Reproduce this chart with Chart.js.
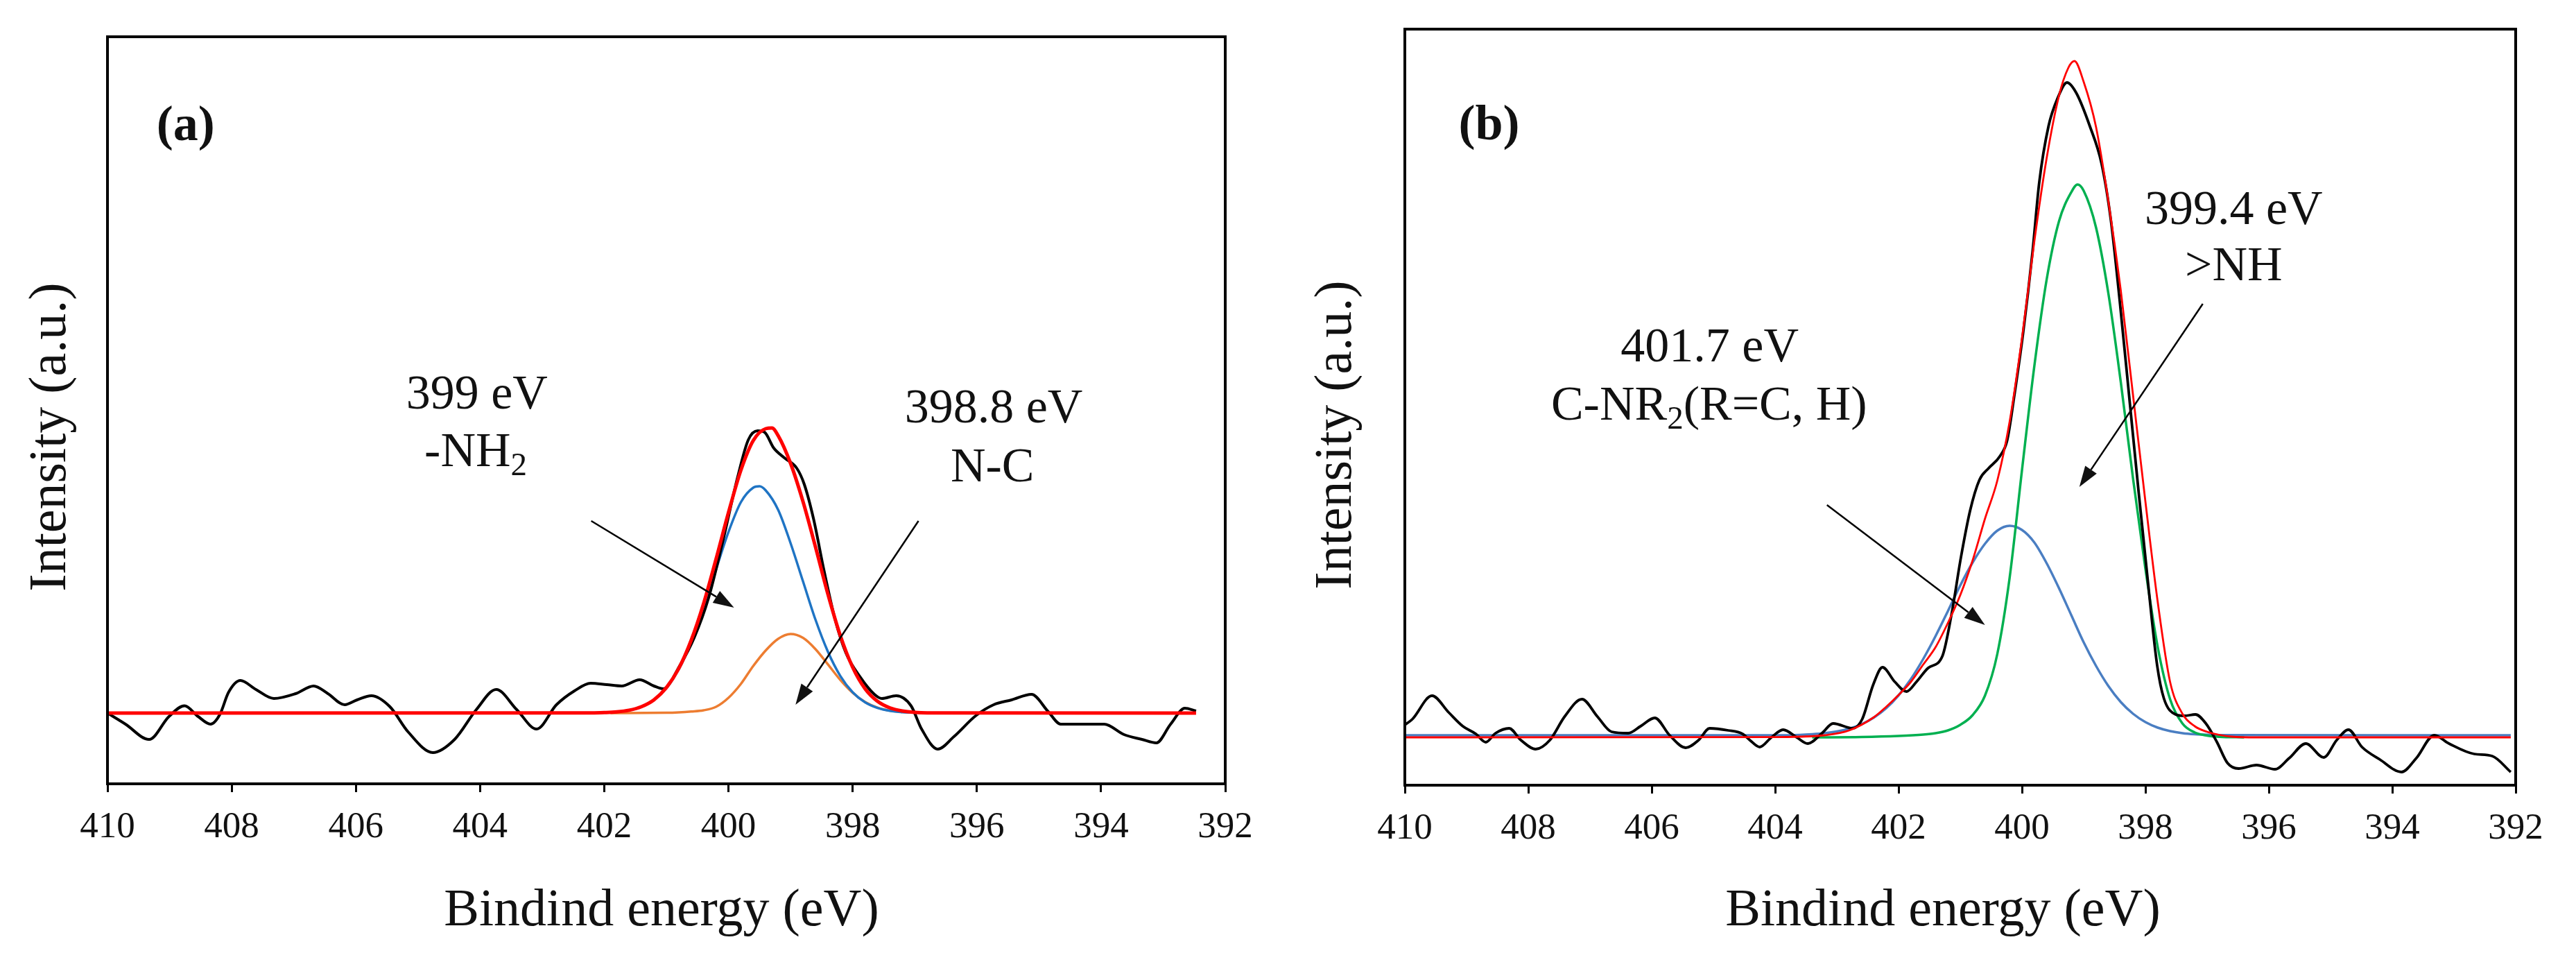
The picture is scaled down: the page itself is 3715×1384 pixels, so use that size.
<!DOCTYPE html>
<html>
<head>
<meta charset="utf-8">
<title>N 1s XPS</title>
<script src="https://cdn.jsdelivr.net/npm/chart.js@4.4.1/dist/chart.umd.min.js"></script>
<style>
  html, body { margin: 0; padding: 0; background: #fff; }
  body { width: 3715px; height: 1384px; position: relative; overflow: hidden; }
  canvas { position: absolute; top: 0; }
  #chartA { left: 0; }
  #chartB { left: 1860px; }
</style>
</head>
<body>
<canvas id="chartA" width="1860" height="1384"></canvas>
<canvas id="chartB" width="1855" height="1384"></canvas>
<script>
// x axis ticks, binding energy (eV)
const energyTicks = [410, 408, 406, 404, 402, 400, 398, 396, 394, 392];

// Panel (a) - measured spectrum
const aRawE = [410.00, 409.71, 409.33, 409.01, 408.76, 408.54, 408.34, 408.19, 408.05, 407.86, 407.61, 407.32, 406.97, 406.68, 406.45, 406.18, 405.98, 405.75, 405.45, 405.16, 404.76, 404.41, 404.06, 403.74, 403.41, 403.09, 402.77, 402.48, 402.22, 401.96, 401.72, 401.43, 401.20, 401.05, 400.78, 400.55, 400.32, 400.09, 399.85, 399.68, 399.53, 399.42, 399.27, 399.10, 398.90, 398.78, 398.63, 398.46, 398.28, 398.11, 397.88, 397.65, 397.53, 397.30, 397.06, 396.89, 396.63, 396.37, 396.02, 395.73, 395.44, 395.12, 394.85, 394.65, 394.33, 393.95, 393.63, 393.34, 393.11, 392.88, 392.65, 392.47];
const aRawI = [0, -1.6, -3.8, -0.5, 1.05, -0.5, -1.6, -0.2, 3.0, 4.7, 3.4, 2.1, 2.8, 3.9, 2.8, 1.2, 1.9, 2.5, 0.9, -2.7, -5.7, -3.8, 0.5, 3.4, 0.5, -2.3, 1.2, 3.2, 4.3, 4.1, 3.9, 4.8, 3.9, 3.5, 6.9, 10.9, 16.6, 24.8, 34.1, 39.4, 40.7, 40.5, 38.2, 36.8, 35.3, 33.0, 28.0, 20.5, 13.4, 8.7, 5.2, 2.7, 2.1, 2.5, 1.05, -2.3, -5.2, -3.4, -0.4, 1.2, 1.9, 2.7, 0.2, -1.6, -1.6, -1.6, -3.1, -3.8, -4.3, -1.6, 0.7, 0.3];

// Panel (a) - fitted envelope
const aFitE = [410.0, 402.2, 402.0, 401.8, 401.6, 401.4, 401.2, 401.0, 400.8, 400.6, 400.4, 400.2, 400.0, 399.8, 399.6, 399.4, 399.3, 399.2, 399.0, 398.8, 398.6, 398.4, 398.2, 398.0, 397.8, 397.6, 397.4, 397.2, 397.0, 396.8, 392.47];
const aFitI = [0, 0.02, 0.07, 0.17, 0.41, 0.93, 1.91, 3.66, 6.43, 10.5, 15.8, 22.2, 28.9, 35.0, 39.3, 41.0, 41.1, 40.0, 36.0, 30.5, 24.0, 17.2, 11.2, 6.6, 3.5, 1.7, 0.75, 0.3, 0.1, 0.03, 0];

// Panel (a) - -NH2 component
const aNh2E = [402.2, 402.0, 401.8, 401.6, 401.4, 401.2, 401.0, 400.8, 400.6, 400.4, 400.2, 400.0, 399.8, 399.6, 399.5, 399.4, 399.2, 399.0, 398.8, 398.6, 398.4, 398.2, 398.0, 397.8, 397.6, 397.4, 397.2, 397.0, 396.8];
const aNh2I = [0.02, 0.07, 0.17, 0.41, 0.92, 1.9, 3.62, 6.31, 10.2, 15.1, 20.7, 26.1, 30.4, 32.5, 32.7, 32.1, 29.3, 24.5, 19.0, 13.5, 8.88, 5.37, 3.0, 1.54, 0.73, 0.32, 0.13, 0.05, 0];

// Panel (a) - N-C component
const aNcE = [401.9, 401.0, 400.8, 400.6, 400.4, 400.2, 400.0, 399.8, 399.6, 399.4, 399.2, 399.0, 398.8, 398.6, 398.4, 398.2, 398.0, 397.8, 397.6, 397.4, 397.2];
const aNcI = [0, 0.04, 0.1, 0.22, 0.4, 0.9, 2.2, 4.2, 6.8, 9.03, 10.7, 11.4, 10.84, 9.23, 7.03, 4.79, 2.92, 1.59, 0.78, 0.34, 0.13];

// Panel (b) - measured spectrum
const bRawE = [410.00, 409.88, 409.56, 409.29, 409.06, 408.85, 408.69, 408.53, 408.31, 408.12, 407.88, 407.65, 407.41, 407.13, 406.88, 406.65, 406.38, 406.18, 405.95, 405.71, 405.45, 405.24, 405.06, 404.76, 404.53, 404.41, 404.25, 404.06, 403.87, 403.65, 403.47, 403.24, 403.06, 402.74, 402.59, 402.41, 402.26, 402.06, 401.87, 401.71, 401.52, 401.29, 401.14, 400.99, 400.84, 400.69, 400.54, 400.36, 400.24, 400.13, 399.98, 399.83, 399.72, 399.57, 399.42, 399.27, 399.12, 398.90, 398.71, 398.56, 398.41, 398.26, 398.11, 397.96, 397.81, 397.70, 397.51, 397.37, 397.19, 397.02, 396.84, 396.67, 396.49, 396.20, 395.90, 395.67, 395.40, 395.11, 394.90, 394.71, 394.49, 394.20, 393.85, 393.61, 393.32, 393.08, 392.67, 392.38, 392.08];
const bRawI = [1.8, 2.6, 6.0, 3.6, 1.6, 0.5, -0.7, 0.6, 1.3, -0.4, -1.7, -0.4, 3.0, 5.5, 3.0, 0.8, 0.6, 1.6, 2.8, 0.3, -1.5, -0.4, 1.3, 1.0, 0.5, -0.4, -1.4, 0.0, 1.1, 0.0, -0.9, 0.6, 2.0, 1.3, 2.6, 7.6, 10.1, 8.0, 6.6, 8.0, 10.0, 11.7, 17.8, 25.9, 32.7, 37.1, 38.8, 40.5, 42.8, 48.9, 58.4, 69.9, 80.0, 88.1, 92.2, 94.4, 92.9, 88.1, 82.7, 74.6, 62.4, 48.9, 35.4, 22.5, 10.4, 5.6, 3.3, 3.1, 3.3, 2.0, -0.7, -3.7, -4.5, -4.0, -4.6, -3.0, -0.9, -2.9, -0.4, 1.1, -1.4, -3.2, -5.0, -3.0, 0.3, -0.9, -2.4, -2.7, -5.0];

// Panel (b) - fitted envelope
const bFitE = [410.0, 404.0, 403.6, 403.2, 402.8, 402.4, 402.2, 402.0, 401.8, 401.6, 401.4, 401.2, 401.0, 400.8, 400.6, 400.4, 400.2, 400.0, 399.8, 399.6, 399.4, 399.25, 399.15, 399.0, 398.8, 398.6, 398.4, 398.2, 398.0, 397.8, 397.6, 397.4, 397.2, 397.0, 396.8, 396.6, 396.2, 392.08];
const bFitI = [0, 0.03, 0.1, 0.3, 1.0, 2.9, 4.4, 6.1, 8.0, 10.5, 13.0, 16.5, 20.5, 25.5, 31.5, 37.0, 45.5, 57.5, 71.5, 83.5, 92.5, 96.5, 97.5, 94.5, 88.0, 77.3, 64.5, 49.3, 34.0, 19.5, 8.0, 3.4, 1.6, 0.8, 0.35, 0.1, 0, 0];

// Panel (b) - C-NR2 component (its baseline sits just above the envelope's)
const bCnrE = [410.0, 404.0, 403.6, 403.4, 403.2, 403.0, 402.8, 402.6, 402.4, 402.2, 402.0, 401.8, 401.6, 401.4, 401.2, 401.0, 400.8, 400.6, 400.4, 400.2, 400.0, 399.8, 399.6, 399.4, 399.2, 399.0, 398.8, 398.6, 398.4, 398.2, 398.0, 397.8, 397.6, 397.4, 397.2, 397.0, 396.6, 392.08];
const bCnrI = [0.3, 0.3, 0.35, 0.45, 0.6, 0.85, 1.25, 1.9, 2.85, 4.2, 6.05, 8.4, 11.3, 14.6, 18.2, 21.9, 25.2, 27.9, 29.8, 30.5, 29.9, 28.1, 25.1, 21.5, 17.6, 13.7, 10.3, 7.4, 5.1, 3.4, 2.2, 1.4, 0.9, 0.6, 0.45, 0.38, 0.32, 0.3];

// Panel (b) - >NH component
const bNhE = [403.4, 402.6, 402.0, 401.6, 401.4, 401.2, 401.0, 400.8, 400.6, 400.4, 400.2, 400.0, 399.8, 399.6, 399.4, 399.2, 399.1, 399.0, 398.8, 398.6, 398.4, 398.2, 398.0, 397.8, 397.6, 397.4, 397.2, 397.0, 396.8, 396.4];
const bNhI = [0, 0.05, 0.2, 0.4, 0.6, 1.0, 1.8, 3.2, 6.0, 12.0, 23.0, 38.5, 53.5, 66.0, 74.4, 78.6, 79.7, 78.8, 73.5, 64.0, 51.3, 37.3, 24.3, 13.0, 5.5, 2.0, 0.7, 0.25, 0.08, 0];

const FONT = '"Liberation Serif", "Times New Roman", serif';

function pts(es, is) {
    return es.map((e, k) => ({ x: e, y: is[k] }));
}

function line(data, color, width, order) {
    return {
        data: data,
        borderColor: color,
        borderWidth: width,
        pointRadius: 0,
        fill: false,
        cubicInterpolationMode: 'monotone',
        order: order
    };
}

// draw text made of normal / subscript pieces, centred on cx
function drawRich(ctx, parts, cx, y, size) {
    const sub = Math.round(size * 0.67);
    let total = 0;
    parts.forEach(p => {
        ctx.font = (p[1] ? sub : size) + 'px ' + FONT;
        total += ctx.measureText(p[0]).width;
    });
    let x = cx - total / 2;
    ctx.textAlign = 'left';
    ctx.textBaseline = 'alphabetic';
    parts.forEach(p => {
        ctx.font = (p[1] ? sub : size) + 'px ' + FONT;
        ctx.fillText(p[0], x, p[1] ? y + size * 0.19 : y);
        x += ctx.measureText(p[0]).width;
    });
}

function drawArrow(ctx, x1, y1, x2, y2) {
    const ang = Math.atan2(y2 - y1, x2 - x1);
    const len = 30, half = 10;
    const bx = x2 - len * Math.cos(ang);
    const by = y2 - len * Math.sin(ang);
    ctx.lineWidth = 2.5;
    ctx.beginPath();
    ctx.moveTo(x1, y1);
    ctx.lineTo(bx, by);
    ctx.stroke();
    ctx.beginPath();
    ctx.moveTo(x2, y2);
    ctx.lineTo(bx + half * Math.sin(ang), by - half * Math.cos(ang));
    ctx.lineTo(bx - half * Math.sin(ang), by + half * Math.cos(ang));
    ctx.closePath();
    ctx.fill();
}

function decor(cfg) {
    return {
        id: 'decor',
        afterDatasetsDraw(chart) {
            const ctx = chart.ctx;
            const xs = chart.scales.x, ys = chart.scales.y;
            const a = chart.chartArea;
            ctx.save();
            ctx.strokeStyle = '#000';
            ctx.fillStyle = '#111';
            ctx.lineWidth = 4;
            ctx.strokeRect(a.left, a.top, a.right - a.left, a.bottom - a.top);

            cfg.arrows.forEach(ar => {
                drawArrow(ctx,
                    xs.getPixelForValue(ar.from[0]), ys.getPixelForValue(ar.from[1]),
                    xs.getPixelForValue(ar.to[0]), ys.getPixelForValue(ar.to[1]));
            });
            cfg.notes.forEach(n => {
                drawRich(ctx, n.parts, xs.getPixelForValue(n.at[0]), ys.getPixelForValue(n.at[1]), 70);
            });

            ctx.textAlign = 'left';
            ctx.textBaseline = 'alphabetic';
            ctx.font = 'bold 72px ' + FONT;
            ctx.fillText(cfg.tag, xs.getPixelForValue(cfg.tagAt[0]), ys.getPixelForValue(cfg.tagAt[1]));

            // axis titles
            ctx.font = '76px ' + FONT;
            ctx.textAlign = 'center';
            ctx.fillText('Bindind energy (eV)', cfg.xTitle[0], cfg.xTitle[1]);
            ctx.translate(cfg.yTitle[0], cfg.yTitle[1]);
            ctx.rotate(-Math.PI / 2);
            ctx.fillText('Intensity (a.u.)', 0, 0);
            ctx.restore();
        }
    };
}

function makeChart(id, datasets, yMin, yMax, pad, axisH, cfg) {
    const ctx = document.getElementById(id).getContext('2d');
    return new Chart(ctx, {
        type: 'line',
        data: { datasets: datasets },
        options: {
            responsive: false,
            animation: false,
            devicePixelRatio: 1,
            layout: { padding: pad },
            plugins: { legend: { display: false }, tooltip: { enabled: false } },
            scales: {
                x: {
                    type: 'linear',
                    reverse: true,
                    min: 392,
                    max: 410,
                    afterBuildTicks: scale => { scale.ticks = energyTicks.map(v => ({ value: v })); },
                    afterFit: scale => { scale.height = axisH; },
                    grid: { display: true, drawOnChartArea: false, drawTicks: true, tickLength: 12, tickWidth: 3, tickColor: '#000' },
                    border: { display: false },
                    ticks: {
                        color: '#111',
                        font: { family: FONT, size: 53 },
                        padding: 19,
                        maxRotation: 0,
                        autoSkip: false,
                        callback: v => String(v)
                    }
                },
                y: { display: false, min: yMin, max: yMax }
            }
        },
        plugins: [decor(cfg)]
    });
}

window.addEventListener('load', () => {
    makeChart('chartA', [
        line(pts(aFitE, aFitI), '#ff0000', 5, 0),
        line(pts(aRawE, aRawI), '#000000', 4, 1),
        line(pts(aNh2E, aNh2I), '#1f74c4', 3.5, 2),
        line(pts(aNcE, aNcI), '#ed7d31', 3.5, 3)
    ], -10.2, 97.5, { top: 53, left: 155, right: 93, bottom: 0 }, 254, {
        tag: '(a)', tagAt: [409.21, 82.6],
        notes: [
            { at: [404.05, 43.9], parts: [['399 eV']] },
            { at: [404.07, 35.6], parts: [['-NH'], ['2', 1]] },
            { at: [395.73, 41.9], parts: [['398.8 eV']] },
            { at: [395.75, 33.4], parts: [['N-C']] }
        ],
        arrows: [
            { from: [402.21, 27.7], to: [399.91, 15.2] },
            { from: [396.94, 27.7], to: [398.92, 1.2] }
        ],
        xTitle: [954, 1334],
        yTitle: [94, 630]
    });

    makeChart('chartB', [
        line(pts(bFitE, bFitI), '#ff0000', 2.8, 0),
        line(pts(bRawE, bRawI), '#000000', 3.8, 1),
        line(pts(bNhE, bNhI), '#00b050', 3.5, 2),
        line(pts(bCnrE, bCnrI), '#4a7ec2', 3.5, 3)
    ], -6.9, 102.1, { top: 42, left: 166, right: 87, bottom: 0 }, 252, {
        tag: '(b)', tagAt: [409.13, 86.2],
        notes: [
            { at: [396.57, 74.0], parts: [['399.4 eV']] },
            { at: [396.57, 65.9], parts: [['>NH']] },
            { at: [405.06, 54.2], parts: [['401.7 eV']] },
            { at: [405.07, 45.8], parts: [['C-NR'], ['2', 1], ['(R=C, H)']] }
        ],
        arrows: [
            { from: [403.16, 33.5], to: [400.60, 16.2] },
            { from: [397.07, 62.5], to: [399.07, 36.1] }
        ],
        xTitle: [942, 1334],
        yTitle: [88, 627]
    });
});
</script>
</body>
</html>
